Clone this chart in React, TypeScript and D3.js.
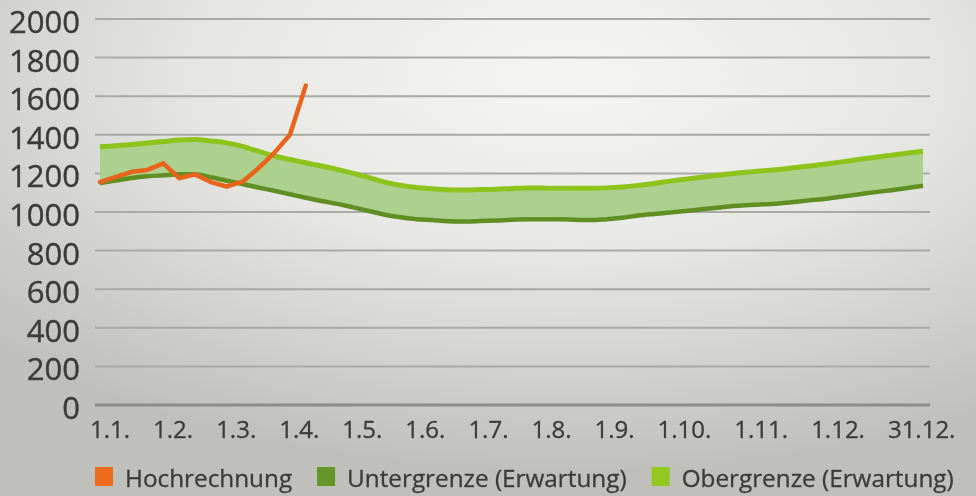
import { useEffect, useRef } from 'react';
import * as d3 from 'd3';

// weekly values (Kalenderwochen 1..53)
const weeks = d3.range(1, 54);

const hochrechnung = [1155, 1182, 1208, 1218, 1252, 1175, 1195, 1155, 1132, 1157, 1226, 1305, 1400, 1655];

const obergrenze = [
  1338, 1343, 1350, 1358, 1365, 1373, 1376, 1368, 1358, 1340,
  1315, 1290, 1272, 1255, 1238, 1220, 1200, 1178, 1155, 1138,
  1127, 1120, 1115, 1114, 1116, 1118, 1122, 1125, 1124, 1123,
  1123, 1123, 1125, 1130, 1138, 1148, 1160, 1170, 1180, 1190,
  1200, 1207, 1214, 1221, 1231, 1240, 1250, 1261, 1273, 1284,
  1294, 1304, 1315,
];

const untergrenze = [
  1150, 1163, 1176, 1185, 1190, 1195, 1195, 1180, 1162, 1145,
  1127, 1110, 1092, 1074, 1057, 1042, 1024, 1005, 986, 973,
  963, 958, 952, 951, 953, 956, 960, 962, 962, 962,
  960, 958, 963, 970, 982, 990, 997, 1005, 1014, 1022,
  1031, 1036, 1040, 1045, 1053, 1062, 1070, 1081, 1092, 1103,
  1113, 1124, 1136,
];

const yTicks = d3.range(0, 2001, 200);
const xLabels = ['1.1.', '1.2.', '1.3.', '1.4.', '1.5.', '1.6.', '1.7.', '1.8.', '1.9.', '1.10.', '1.11.', '1.12.', '31.12.'];

const legendItems = [
  { name: 'Hochrechnung', color: '#ee6a1e' },
  { name: 'Untergrenze (Erwartung)', color: '#66952a' },
  { name: 'Obergrenze (Erwartung)', color: '#95c722' },
];

const width = 976;
const height = 496;
const font = '"Open Sans", "Noto Sans", sans-serif';
const textColor = '#3b3b3b';

export default function App() {
  const svgRef = useRef<SVGSVGElement | null>(null);

  useEffect(() => {
    const svg = d3.select(svgRef.current);
    svg.selectAll('*').remove();

    const x = d3.scaleLinear().domain([1, 53]).range([100, 923]);
    const y = d3.scaleLinear().domain([0, 2000]).range([405, 19]);

    // photo-like background
    const defs = svg.append('defs');
    const grad = defs.append('radialGradient')
      .attr('id', 'bg')
      .attr('cx', '58%').attr('cy', '15%').attr('r', '80%');
    grad.append('stop').attr('offset', '0%').attr('stop-color', '#f5f5f2');
    grad.append('stop').attr('offset', '45%').attr('stop-color', '#e7e7e3');
    grad.append('stop').attr('offset', '100%').attr('stop-color', '#bfbfbb');
    defs.append('filter').attr('id', 'soft')
      .append('feGaussianBlur').attr('stdDeviation', 0.7);

    svg.append('rect')
      .attr('width', width).attr('height', height)
      .attr('fill', 'url(#bg)');

    const g = svg.append('g').attr('filter', 'url(#soft)');

    // gridlines
    g.append('g')
      .selectAll('line')
      .data(yTicks)
      .join('line')
      .attr('x1', 95).attr('x2', 930)
      .attr('y1', (d) => y(d)).attr('y2', (d) => y(d))
      .attr('stroke', (d) => (d === 0 ? '#8c8c8a' : '#a9a9a7'))
      .attr('stroke-width', (d) => (d === 0 ? 3 : 2));

    // y labels
    g.append('g')
      .selectAll('text')
      .data(yTicks)
      .join('text')
      .attr('x', 80)
      .attr('y', (d) => y(d) + 2)
      .attr('text-anchor', 'end')
      .attr('dominant-baseline', 'central')
      .attr('font-family', font)
      .attr('font-size', 31)
      .attr('fill', textColor)
      .attr('stroke', textColor)
      .attr('stroke-width', 0.4)
      .text((d) => d);

    // x labels, typed as one row
    const xl = g.append('text')
      .attr('x', 90).attr('y', 438)
      .attr('font-family', font)
      .attr('font-size', 24)
      .attr('fill', textColor)
      .attr('stroke', textColor)
      .attr('stroke-width', 0.3);
    xl.selectAll('tspan')
      .data(xLabels)
      .join('tspan')
      .attr('dx', (_, i) => (i === 0 ? 0 : 23))
      .text((d) => d);

    // expectation band
    const band = weeks.map((w, i) => ({ w, lo: untergrenze[i], hi: obergrenze[i] }));
    g.append('path')
      .datum(band)
      .attr('fill', '#acd08e')
      .attr('d', d3.area<{ w: number; lo: number; hi: number }>()
        .x((d) => x(d.w))
        .y0((d) => y(d.lo))
        .y1((d) => y(d.hi))
        .curve(d3.curveMonotoneX));

    const line = d3.line<number>()
      .x((_, i) => x(weeks[i]))
      .y((d) => y(d));

    g.append('path')
      .datum(untergrenze)
      .attr('fill', 'none')
      .attr('stroke', '#5f8e22')
      .attr('stroke-width', 4.5)
      .attr('d', line.curve(d3.curveMonotoneX));

    g.append('path')
      .datum(obergrenze)
      .attr('fill', 'none')
      .attr('stroke', '#8cc41c')
      .attr('stroke-width', 5)
      .attr('d', line.curve(d3.curveMonotoneX));

    g.append('path')
      .datum(hochrechnung)
      .attr('fill', 'none')
      .attr('stroke', '#e9631c')
      .attr('stroke-width', 4.5)
      .attr('stroke-linejoin', 'round')
      .attr('stroke-linecap', 'round')
      .attr('d', line.curve(d3.curveLinear));

    // legend
    const lg = g.append('g');
    let lx = 95;
    legendItems.forEach((item) => {
      lg.append('rect')
        .attr('x', lx).attr('y', 467)
        .attr('width', 18).attr('height', 19)
        .attr('fill', item.color);
      const t = lg.append('text')
        .attr('x', lx + 30).attr('y', 487)
        .attr('font-family', font)
        .attr('font-size', 24.3)
        .attr('fill', textColor)
        .attr('stroke', textColor)
        .attr('stroke-width', 0.3)
        .text(item.name);
      const w = (t.node() as SVGTextElement).getComputedTextLength();
      lx = lx + 30 + w + 25;
    });
  }, []);

  return (
    <svg
      ref={svgRef}
      width={width}
      height={height}
      style={{ position: 'absolute', left: 0, top: 0, display: 'block' }}
    />
  );
}
